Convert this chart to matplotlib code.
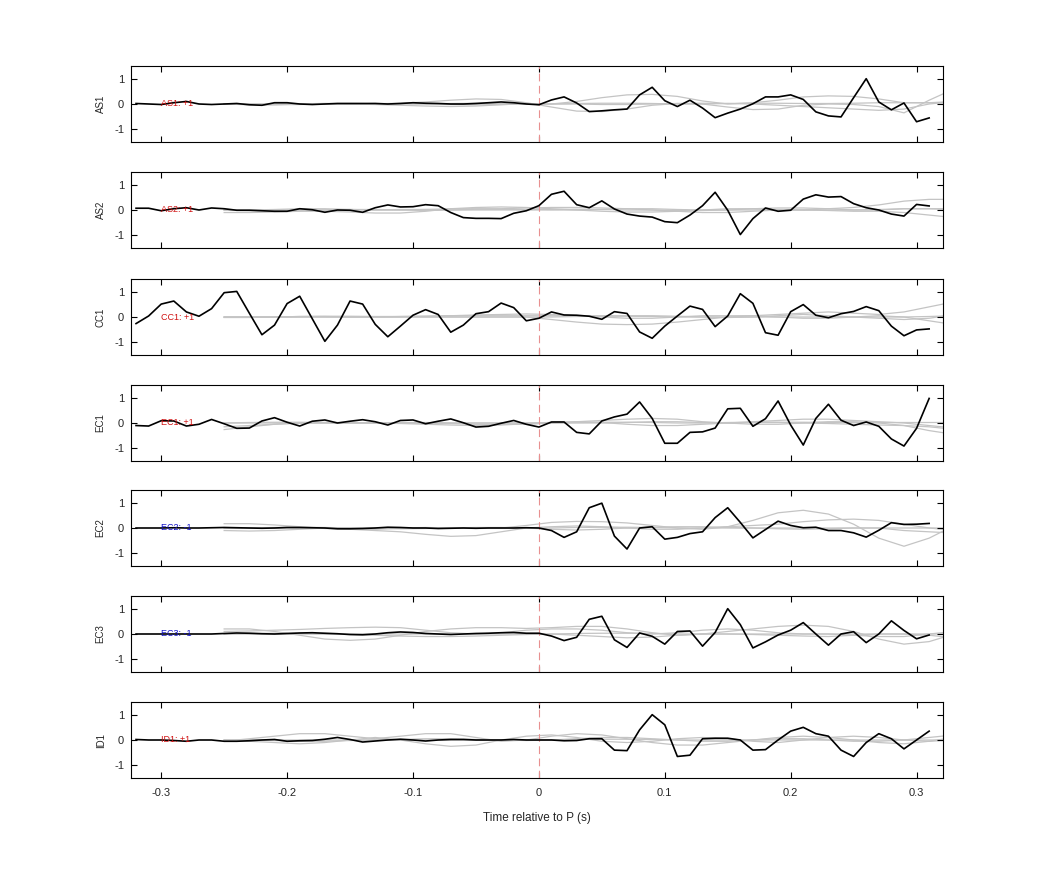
import numpy as np
import matplotlib
matplotlib.use('Agg')
import matplotlib.pyplot as plt

plt.rcParams['font.family'] = ['Liberation Sans', 'DejaVu Sans']

# stations, polarity label and label colour
stations = ['AS1', 'AS2', 'CC1', 'EC1', 'EC2', 'EC3', 'ID1']
polarity = ['+1', '+1', '+1', '+1', '-1', '-1', '+1']

# black trace: samples every 0.01 s from -0.32 to 0.31
t_main = np.round(np.arange(-0.32, 0.315, 0.01), 2)
main = {
    'AS1': [0.02, 0.0, -0.02, 0.05, 0.1, 0.0, -0.02, 0.0, 0.02, -0.03, -0.05, 0.05, 0.05, 0.0, -0.02, 0.0,
            0.02, 0.02, 0.02, 0.02, 0.0, 0.02, 0.05, 0.03, 0.02, 0.0, 0.0, 0.02, 0.05, 0.08, 0.05, 0.0,
            -0.03, 0.16, 0.28, 0.04, -0.3, -0.27, -0.23, -0.2, 0.36, 0.66, 0.13, -0.1, 0.15, -0.16, -0.54, -0.36,
            -0.2, 0.01, 0.28, 0.28, 0.36, 0.18, -0.31, -0.47, -0.51, 0.25, 1.0, 0.08, -0.23, 0.04, -0.7, -0.55],
    'AS2': [0.07, 0.07, -0.03, 0.05, 0.09, 0.0, 0.08, 0.05, -0.01, -0.01, -0.03, -0.05, -0.05, 0.05, 0.01, -0.09,
            0.0, -0.01, -0.09, 0.09, 0.2, 0.12, 0.13, 0.21, 0.17, -0.1, -0.3, -0.33, -0.33, -0.34, -0.13, -0.03,
            0.17, 0.62, 0.74, 0.21, 0.09, 0.36, 0.04, -0.16, -0.24, -0.28, -0.46, -0.5, -0.2, 0.17, 0.7, -0.01,
            -0.97, -0.34, 0.08, -0.05, -0.01, 0.43, 0.6, 0.51, 0.53, 0.25, 0.09, 0.0, -0.16, -0.24, 0.22, 0.16],
    'CC1': [-0.26, 0.04, 0.51, 0.63, 0.2, 0.03, 0.33, 0.96, 1.01, 0.15, -0.7, -0.32, 0.53, 0.82, -0.07, -0.96,
            -0.32, 0.63, 0.51, -0.29, -0.78, -0.36, 0.07, 0.29, 0.1, -0.6, -0.32, 0.13, 0.21, 0.55, 0.37, -0.15,
            -0.05, 0.2, 0.08, 0.07, 0.03, -0.09, 0.21, 0.14, -0.59, -0.84, -0.36, 0.04, 0.43, 0.3, -0.38, 0.04,
            0.92, 0.54, -0.62, -0.72, 0.21, 0.49, 0.07, -0.03, 0.13, 0.22, 0.41, 0.25, -0.36, -0.74, -0.51, -0.47],
    'EC1': [-0.1, -0.12, 0.09, 0.08, -0.12, -0.05, 0.14, -0.03, -0.21, -0.2, 0.08, 0.21, 0.03, -0.12, 0.07, 0.12,
            0.0, 0.07, 0.13, 0.05, -0.08, 0.1, 0.12, -0.03, 0.07, 0.16, 0.01, -0.16, -0.13, -0.01, 0.1, -0.05,
            -0.16, 0.04, 0.04, -0.37, -0.43, 0.08, 0.24, 0.35, 0.83, 0.18, -0.8, -0.8, -0.37, -0.35, -0.2, 0.56,
            0.58, -0.13, 0.17, 0.87, -0.08, -0.87, 0.18, 0.74, 0.11, -0.1, 0.04, -0.13, -0.63, -0.91, -0.21, 0.97],
    'EC2': [0.0, 0.0, 0.0, 0.01, 0.0, 0.0, 0.01, 0.02, 0.01, 0.0, -0.01, 0.0, 0.02, 0.02, 0.01, 0.0,
            -0.03, -0.03, -0.02, 0.0, 0.03, 0.02, 0.0, 0.0, -0.02, -0.01, 0.0, -0.01, 0.0, 0.0, 0.0, 0.01,
            0.0, -0.1, -0.37, -0.15, 0.8, 0.98, -0.32, -0.83, 0.0, 0.05, -0.44, -0.37, -0.22, -0.15, 0.41, 0.8,
            0.22, -0.39, -0.06, 0.27, 0.1, 0.01, 0.03, -0.1, -0.1, -0.19, -0.36, -0.09, 0.21, 0.14, 0.15, 0.18],
    'EC3': [0.0, 0.0, 0.0, 0.0, 0.0, 0.0, 0.0, 0.02, 0.04, 0.03, 0.01, 0.0, 0.02, 0.04, 0.05, 0.03,
            0.01, -0.02, -0.03, 0.0, 0.05, 0.08, 0.06, 0.02, 0.0, -0.02, 0.0, 0.02, 0.03, 0.05, 0.06, 0.03,
            0.03, -0.08, -0.26, -0.13, 0.58, 0.7, -0.23, -0.53, 0.04, -0.09, -0.4, 0.1, 0.12, -0.48, 0.06, 1.0,
            0.37, -0.55, -0.31, -0.04, 0.15, 0.45, 0.0, -0.44, 0.0, 0.09, -0.34, 0.0, 0.52, 0.14, -0.19, -0.04],
    'ID1': [0.02, 0.0, 0.0, -0.02, -0.05, 0.0, 0.0, -0.05, -0.05, -0.03, 0.0, 0.02, -0.05, -0.03, -0.02, 0.03,
            0.1, 0.02, -0.08, -0.04, 0.0, 0.03, 0.0, -0.04, 0.0, 0.02, 0.02, 0.0, 0.0, 0.0, 0.02, 0.0,
            0.0, 0.0, -0.03, -0.02, 0.05, 0.05, -0.4, -0.42, 0.4, 1.0, 0.6, -0.65, -0.6, 0.05, 0.07, 0.07,
            0.0, -0.4, -0.38, 0.0, 0.35, 0.5, 0.25, 0.15, -0.4, -0.65, -0.1, 0.25, 0.05, -0.35, 0.0, 0.35],
}

# grey traces: samples every 0.02 s from -0.25 to 0.33
t_grey = np.round(np.arange(-0.25, 0.335, 0.02), 2)
grey = {
    'AS1': [
        [0.0, 0.0, 0.0, 0.0, 0.0, 0.0, 0.0, 0.03, 0.08, 0.15, 0.2, 0.18, 0.05, -0.12, -0.28,
         -0.3, -0.2, -0.05, 0.02, 0.0, -0.12, -0.22, -0.2, -0.05, 0.0, -0.02, -0.1, -0.35, 0.15, 0.6],
        [0.0, -0.03, -0.03, 0.0, 0.02, 0.0, -0.02, -0.05, -0.08, -0.1, -0.08, -0.03, 0.02, 0.0, 0.1,
         0.25, 0.36, 0.38, 0.3, 0.12, 0.0, 0.05, 0.15, 0.28, 0.32, 0.3, 0.2, 0.05, 0.05, 0.1],
        [0.0, -0.02, -0.03, -0.02, 0.0, 0.0, 0.02, 0.02, 0.0, -0.02, -0.03, -0.02, 0.0, 0.0, 0.0,
         -0.02, -0.02, 0.0, 0.02, 0.03, 0.02, 0.0, -0.05, -0.1, -0.15, -0.2, -0.25, -0.2, 0.0, 0.1],
        [0.0, 0.0, 0.0, 0.01, 0.02, 0.02, 0.01, 0.0, 0.0, 0.02, 0.03, 0.02, 0.0, 0.0, 0.02,
         0.03, 0.03, 0.02, 0.0, 0.0, 0.02, 0.03, 0.03, 0.02, 0.02, 0.03, 0.05, 0.05, 0.05, 0.05],
    ],
    'AS2': [
        [-0.1, -0.1, -0.08, -0.05, -0.05, -0.08, -0.12, -0.12, -0.05, 0.05, 0.1, 0.12, 0.1, 0.05, 0.0,
         -0.05, -0.08, -0.08, -0.05, 0.0, 0.05, 0.05, 0.0, 0.0, 0.05, 0.1, 0.2, 0.35, 0.42, 0.42],
        [0.0, 0.0, 0.02, 0.05, 0.05, 0.02, 0.0, 0.0, 0.02, 0.05, 0.05, 0.05, 0.08, 0.1, 0.1,
         0.08, 0.05, 0.0, -0.05, -0.1, -0.1, -0.05, 0.0, 0.0, -0.02, -0.05, -0.05, -0.1, -0.2, -0.3],
        [0.0, -0.02, -0.03, -0.03, 0.0, 0.02, 0.02, 0.0, -0.02, 0.0, 0.03, 0.03, 0.02, 0.0, 0.0,
         0.02, 0.05, 0.05, 0.02, 0.0, 0.0, 0.05, 0.08, 0.08, 0.05, 0.0, 0.0, 0.05, 0.05, 0.02],
        [0.0, 0.0, 0.0, 0.0, 0.0, 0.0, 0.0, 0.02, 0.02, 0.0, 0.0, 0.0, 0.0, 0.02, 0.03,
         0.02, 0.0, 0.0, -0.02, -0.02, 0.0, 0.0, 0.02, 0.0, 0.0, 0.0, 0.02, 0.05, 0.05, 0.05],
    ],
    'CC1': [
        [0.0, 0.0, 0.0, 0.02, 0.03, 0.03, 0.02, 0.02, 0.03, 0.05, 0.08, 0.1, 0.12, 0.1, 0.05,
         0.0, -0.05, -0.05, 0.0, 0.05, 0.05, 0.05, 0.1, 0.15, 0.2, 0.15, 0.1, 0.2, 0.4, 0.6],
        [0.0, 0.0, 0.0, 0.0, 0.0, 0.0, 0.0, 0.0, 0.0, 0.0, 0.0, 0.0, 0.0, -0.1, -0.2,
         -0.28, -0.3, -0.28, -0.2, -0.1, 0.0, 0.05, 0.0, -0.05, -0.05, 0.0, 0.05, 0.0, -0.15, -0.3],
        [-0.02, -0.02, 0.0, 0.02, 0.02, 0.0, 0.0, 0.02, 0.03, 0.05, 0.05, 0.05, 0.05, 0.05, 0.05,
         0.05, 0.05, 0.05, 0.03, 0.0, -0.02, 0.0, 0.05, 0.1, 0.05, 0.0, -0.05, -0.1, -0.05, 0.1],
        [0.0, 0.0, 0.0, 0.0, 0.0, 0.0, 0.0, 0.0, 0.0, 0.0, 0.0, 0.0, 0.0, 0.0, 0.02,
         0.03, 0.03, 0.02, 0.0, 0.0, 0.0, 0.0, 0.0, 0.0, 0.0, 0.0, 0.0, 0.0, 0.02, 0.05],
    ],
    'EC1': [
        [-0.26, -0.15, -0.05, 0.0, 0.0, 0.0, 0.0, 0.0, 0.0, -0.02, -0.05, -0.05, -0.05, 0.0, 0.05,
         0.1, 0.15, 0.18, 0.15, 0.05, 0.0, -0.05, -0.05, 0.0, 0.05, 0.05, 0.0, -0.1, -0.3, -0.45],
        [-0.15, -0.1, -0.05, 0.0, 0.02, 0.02, 0.0, -0.02, -0.05, -0.08, -0.1, -0.08, -0.03, 0.0, 0.0,
         0.0, 0.02, 0.05, 0.05, 0.02, 0.0, 0.05, 0.1, 0.15, 0.15, 0.1, 0.05, 0.0, -0.1, -0.2],
        [0.0, 0.02, 0.03, 0.03, 0.02, 0.0, 0.0, 0.02, 0.02, 0.0, 0.0, 0.0, 0.0, 0.02, 0.05,
         0.02, -0.05, -0.1, -0.1, -0.05, 0.0, 0.02, 0.02, 0.0, -0.02, -0.05, -0.08, -0.1, -0.15, -0.25],
        [0.0, 0.0, 0.0, 0.0, 0.0, 0.0, 0.0, 0.0, 0.0, 0.0, 0.0, 0.0, 0.0, 0.0, 0.02,
         0.03, 0.03, 0.02, 0.0, 0.0, 0.02, 0.03, 0.03, 0.03, 0.02, 0.02, 0.02, 0.02, 0.02, 0.02],
    ],
    'EC2': [
        [0.17, 0.17, 0.12, 0.05, -0.02, -0.05, -0.05, 0.0, 0.02, 0.0, -0.02, 0.0, 0.1, 0.22, 0.26,
         0.25, 0.2, 0.1, 0.0, -0.05, 0.05, 0.3, 0.6, 0.7, 0.55, 0.15, -0.4, -0.72, -0.4, 0.1],
        [-0.1, -0.12, -0.1, -0.05, 0.0, -0.05, -0.1, -0.15, -0.25, -0.33, -0.3, -0.15, 0.0, 0.05, 0.08,
         0.05, 0.0, -0.05, -0.05, 0.0, 0.05, 0.1, 0.15, 0.25, 0.32, 0.35, 0.3, 0.15, 0.0, -0.1],
        [0.0, 0.0, 0.02, 0.03, 0.02, 0.0, -0.02, -0.03, -0.02, 0.0, 0.02, 0.02, 0.0, -0.05, -0.08,
         -0.05, 0.0, 0.03, 0.05, 0.05, 0.02, 0.0, -0.03, -0.05, -0.03, 0.0, 0.0, -0.1, -0.15, -0.2],
        [0.0, 0.0, 0.0, 0.0, 0.0, 0.0, 0.0, 0.0, 0.0, 0.0, 0.0, 0.0, 0.0, 0.0, 0.02,
         0.03, 0.03, 0.02, 0.0, 0.0, 0.0, 0.0, 0.0, 0.0, 0.0, 0.0, 0.0, 0.0, 0.0, 0.0],
    ],
    'EC3': [
        [0.2, 0.2, 0.1, -0.05, -0.2, -0.25, -0.2, -0.05, 0.1, 0.2, 0.25, 0.25, 0.22, 0.25, 0.3,
         0.3, 0.2, 0.05, -0.05, 0.0, 0.1, 0.2, 0.3, 0.35, 0.3, 0.1, -0.2, -0.4, -0.3, 0.0],
        [0.1, 0.12, 0.15, 0.18, 0.22, 0.25, 0.27, 0.25, 0.15, 0.05, 0.0, 0.05, 0.15, 0.2, 0.2,
         0.15, 0.05, 0.0, 0.05, 0.15, 0.2, 0.15, 0.05, 0.0, 0.0, -0.05, -0.1, -0.1, 0.0, 0.1],
        [0.0, 0.02, 0.03, 0.02, 0.0, -0.02, -0.05, -0.08, -0.1, -0.1, -0.08, -0.05, -0.02, 0.0, -0.05,
         -0.1, -0.15, -0.12, -0.05, 0.0, 0.0, -0.02, -0.05, -0.08, -0.1, -0.05, 0.0, 0.0, -0.05, -0.15],
        [0.0, 0.0, 0.0, 0.0, 0.0, 0.0, 0.0, 0.0, 0.0, 0.0, 0.0, 0.0, 0.0, 0.0, 0.02,
         0.03, 0.03, 0.02, 0.0, 0.0, 0.0, 0.0, 0.0, 0.0, 0.0, 0.0, 0.0, 0.0, 0.0, 0.0],
    ],
    'ID1': [
        [-0.05, 0.05, 0.15, 0.25, 0.25, 0.15, 0.05, 0.15, 0.25, 0.25, 0.1, -0.05, 0.0, 0.15, 0.25,
         0.2, 0.05, -0.1, -0.2, -0.2, -0.1, 0.0, 0.1, 0.15, 0.1, 0.0, -0.1, -0.15, -0.05, 0.1],
        [0.0, -0.05, -0.1, -0.15, -0.1, 0.0, 0.1, 0.0, -0.15, -0.25, -0.2, 0.0, 0.15, 0.2, 0.1,
         -0.05, -0.1, -0.05, 0.05, 0.1, 0.05, -0.05, -0.1, 0.0, 0.1, 0.15, 0.1, 0.0, -0.05, 0.0],
        [0.0, 0.0, -0.02, -0.05, -0.05, -0.02, 0.0, 0.02, 0.05, 0.05, 0.02, 0.0, -0.02, 0.0, 0.05,
         0.1, 0.1, 0.05, 0.0, -0.05, -0.05, 0.0, 0.05, 0.05, 0.0, -0.05, -0.05, 0.0, 0.1, 0.2],
        [0.0, 0.0, 0.0, 0.0, 0.0, 0.0, 0.0, 0.0, 0.0, 0.0, 0.0, 0.0, 0.0, 0.0, 0.02,
         0.03, 0.03, 0.02, 0.0, 0.0, 0.0, 0.0, 0.0, 0.0, 0.0, 0.0, 0.0, 0.0, 0.0, 0.0],
    ],
}

xticks = [-0.3, -0.2, -0.1, 0, 0.1, 0.2, 0.3]
xticklabels = ['-0.3', '-0.2', '-0.1', '0', '0.1', '0.2', '0.3']
yticks = [-1, 0, 1]

W, H = 1042, 875
fig = plt.figure(figsize=(W / 100, H / 100), dpi=100)

left_px, right_px = 131, 943
tops_px = [66, 172, 279, 385, 490, 596, 702]
h_px = 76

for i, st in enumerate(stations):
    ax = fig.add_axes([left_px / W, 1 - (tops_px[i] + h_px) / H,
                       (right_px - left_px) / W, h_px / H])
    for g in grey[st]:
        ax.plot(t_grey, g, color='#c4c4c4', lw=0.9, zorder=1)
    ax.axvline(0, color='#e89090', lw=0.8, ls=(0, (7, 4)), zorder=2)
    ax.plot(t_main, main[st], color='black', lw=1.2, zorder=3)

    col = '#d01010' if polarity[i] == '+1' else '#1010c8'
    ax.text(-0.30, 0, st + ': ' + polarity[i], color=col, fontsize=6.5,
            va='center', ha='left', zorder=4)

    ax.set_xlim(-0.324, 0.321)
    ax.set_ylim(-1.5, 1.5)
    ax.set_yticks(yticks)
    ax.set_yticklabels(['-1', '0', '1'])
    ax.set_xticks(xticks)
    ax.tick_params(direction='in', top=True, right=True, length=4, width=0.8,
                   labelsize=8, labelcolor='#262626')
    ax.tick_params(axis='y', pad=5)
    ax.tick_params(axis='x', pad=7)
    for s in ax.spines.values():
        s.set_linewidth(0.8)
    ax.set_ylabel(st, fontsize=7, color='#262626', labelpad=6)
    if i == len(stations) - 1:
        ax.set_xticklabels(xticklabels)
        ax.set_xlabel('Time relative to P (s)', fontsize=8.5, color='#262626', labelpad=10)
    else:
        ax.set_xticklabels([])

fig.savefig('out.png', dpi=100)
